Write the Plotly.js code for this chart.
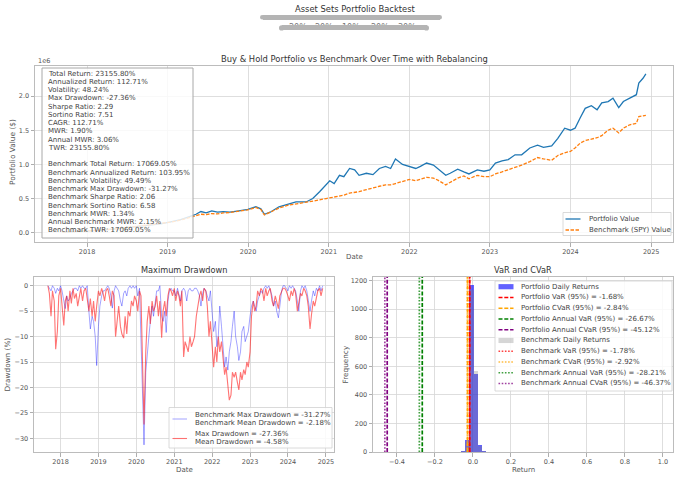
<!DOCTYPE html>
<html><head><meta charset="utf-8">
<script src="https://cdn.plot.ly/plotly-3.0.1.min.js"></script>
<style>html,body{margin:0;padding:0;background:#fff}#chart{width:680px;height:479px}</style>
</head><body><div id="chart"></div>
<script>
// ---------------- data ----------------
const valueDates = ['2017-09-12','2017-10-15','2017-12-01','2018-01-15','2018-03-01','2018-04-15','2018-06-01','2018-07-15','2018-09-01','2018-10-15','2018-12-01','2019-01-15','2019-03-01','2019-04-10','2019-05-10','2019-06-01','2019-06-25','2019-07-20','2019-08-15','2019-09-10','2019-10-10','2019-11-20','2019-12-31','2020-02-05','2020-02-28','2020-03-15','2020-04-10','2020-05-20','2020-06-28','2020-08-05','2020-09-20','2020-10-20','2020-11-20','2020-12-20','2021-01-05','2021-01-25','2021-02-18','2021-03-10','2021-04-05','2021-04-28','2021-05-18','2021-06-20','2021-07-20','2021-08-18','2021-09-15','2021-10-08','2021-10-30','2021-12-01','2022-01-01','2022-01-30','2022-02-20','2022-03-20','2022-04-20','2022-05-10','2022-06-15','2022-07-05','2022-08-08','2022-09-05','2022-09-28','2022-11-05','2022-12-05','2023-01-01','2023-01-26','2023-02-25','2023-03-25','2023-04-25','2023-05-25','2023-07-01','2023-08-05','2023-09-01','2023-10-08','2023-11-05','2023-12-06','2024-01-01','2024-01-22','2024-02-14','2024-03-08','2024-04-05','2024-05-01','2024-05-22','2024-06-20','2024-07-12','2024-08-07','2024-08-28','2024-09-26','2024-10-26','2024-11-06','2024-11-25','2024-12-08'];
// values in millions of $
const portfolioValue = [0.0101,0.012,0.018,0.026,0.034,0.045,0.06,0.078,0.095,0.11,0.13,0.16,0.19,0.235,0.27,0.31,0.29,0.32,0.30,0.31,0.30,0.32,0.34,0.38,0.35,0.27,0.30,0.38,0.42,0.45,0.45,0.50,0.60,0.70,0.76,0.72,0.84,0.82,0.94,0.92,0.84,0.87,0.85,0.94,0.97,0.94,1.08,1.00,0.97,0.94,0.97,1.02,0.99,0.94,0.84,0.87,0.93,0.89,0.86,0.92,0.90,0.92,1.02,1.05,1.07,1.14,1.14,1.24,1.28,1.25,1.27,1.38,1.53,1.50,1.53,1.68,1.82,1.86,1.80,1.90,1.92,1.97,1.83,1.92,1.97,2.02,2.19,2.26,2.3256];
const benchmarkValue = [0.0101,0.013,0.02,0.029,0.038,0.048,0.063,0.08,0.097,0.112,0.13,0.155,0.185,0.22,0.25,0.27,0.265,0.28,0.275,0.29,0.295,0.31,0.335,0.37,0.34,0.26,0.30,0.36,0.40,0.42,0.44,0.46,0.48,0.50,0.51,0.52,0.54,0.55,0.58,0.59,0.60,0.63,0.66,0.68,0.70,0.70,0.72,0.75,0.78,0.76,0.78,0.81,0.80,0.77,0.70,0.74,0.80,0.83,0.79,0.84,0.82,0.82,0.86,0.89,0.92,0.95,0.99,1.04,1.10,1.08,1.06,1.13,1.17,1.19,1.24,1.31,1.35,1.37,1.39,1.42,1.50,1.53,1.46,1.53,1.58,1.60,1.70,1.71,1.7169];

const statLines = ['Total Return: 23155.80%','Annualized Return: 112.71%','Volatility: 48.24%','Max Drawdown: -27.36%','Sharpe Ratio: 2.29','Sortino Ratio: 7.51','CAGR: 112.71%','MWR: 1.90%','Annual MWR: 3.06%','TWR: 23155.80%','','Benchmark Total Return: 17069.05%','Benchmark Annualized Return: 103.95%','Benchmark Volatility: 49.49%','Benchmark Max Drawdown: -31.27%','Benchmark Sharpe Ratio: 2.06','Benchmark Sortino Ratio: 6.58','Benchmark MWR: 1.34%','Annual Benchmark MWR: 2.15%','Benchmark TWR: 17069.05%'];

// drawdown (%), two samples per month (1st, 15th) from 2017-09 to 2024-11, then 2024-12-01
const ddStartYear = 2017, ddStartMonth = 9, ddMonthCount = 87;
const ddPortfolio = [
 0,-1.5, -6,-1, -3,-12.5, -9,-2,
 -0.5,-4, -7.8,-3, -2,-5, -1,-3.5, -0.5,-2.5, -1.5,-4, -2,-0.5, -3,-1, -0.5,-3, -5,-2.5, -6,-3, -7,-4,
 -1,-2, -0.5,-1.5, -3,-1, -0.5,-2, -4,-1, -2,-10, -6,-4, -8,-9.5, -10.3,-6, -9.5,-5, -6,-3, -4,-2,
 -3,-5, -1,-2, -15,-27.3, -13,-7, -4,-7.5, -3,-5, -4,-2, -6,-3, -10.2,-5, -3,-6, -2,-0.5, -1,-2,
 -0.5,-3, -1,-2, -4,-1, -14,-11, -12,-13, -10,-12, -11,-10, -6,-4, -2,-1, -3,-0.5, -1,-4, -10,-7,
 -11.5,-16, -12,-15, -10,-13, -11,-14, -17.5,-16, -20,-22.5, -21.5,-17, -18,-17, -19,-20.5, -17,-18.5, -16.5,-17.5, -15,-16,
 -13,-6, -3,-5, -4,-1, -2,-0.5, -1,-3, -0.5,-2, -1,-0.5, -3,-4, -2,-3, -4.5,-2, -1,-0.5, -0.5,-1,
 -2,-3, -1,-2, -0.5,-1.5, -5,-3, -1.5,-2, -0.5,-1, -2,-4, -8.5,-5.7, -3,-4, -2,-1, -0.5,-2,
 -0.5];
const ddBenchmark = [
 0,-0.5, -1,0, -0.5,-1.5, -0.5,-1,
 0,-1, -3,-4.5, -2,-3, -2.5,-1.5, -1,-0.5, -0.5,-1, 0,-0.5, 0,-0.5, -0.5,0, -5,-8.5, -6,-7, -10,-15.7,
 -8,-4, -2,-1, -1,-0.5, 0,-0.5, -2,-4.4, -1,0, -0.5,-1, -3,-4, -1.5,-1, -2,-0.5, 0,-0.5, 0,-0.5,
 0,-2, -0.5,-12, -20,-31.3, -17,-13, -10,-7, -4,-6, -3,-1, -1,0, -6,-7, -5,-9.2, -3,-1, -0.5,-1,
 -1,-2, -0.5,-1.5, -3,-1, -0.5,-1, -3,-1, -0.5,-1, -1,-0.5, -0.5,-1, -2,-4, -1.5,-0.5, -1,-2, -3,-1,
 -5,-9, -7,-12, -10,-4, -8,-12, -16,-14, -16.6,-13, -11,-8, -5,-10, -12,-14.7, -13,-9, -8,-11, -10,-9,
 -6,-4, -3,-4, -5,-3, -2,-1, -1.5,-0.5, 0,-0.5, 0,-1, -2,-4, -3,-5, -6.3,-4, -1,0, 0,-0.5,
 -1,0, -0.5,0, -0.5,-1, -3,-5, -1,0, -0.5,0, -1,-3, -5,-3, -1,-2, -0.5,-1, 0,-1,
 0];

// daily-return histograms
const histBinCenters = [-0.052,-0.030,-0.008,0.014,0.036,0.058,0.080,0.124,0.97];
const histBinWidth = 0.022;
const portfolioCounts = [7,82,1165,545,47,5,2,1,1];
const benchmarkCounts = [5,70,1130,566,40,4,1,0,0];

const riskLabels = ['Portfolio VaR (95%)','Portfolio CVaR (95%)','Portfolio Annual VaR (95%)','Portfolio Annual CVaR (95%)','Benchmark VaR (95%)','Benchmark CVaR (95%)','Benchmark Annual VaR (95%)','Benchmark Annual CVaR (95%)'];
const riskValues = [-0.0168,-0.0284,-0.2667,-0.4512,-0.0178,-0.0292,-0.2821,-0.4637];

const ddSummary = {bMax:-31.27,bMean:-2.18,pMax:-27.36,pMean:-4.58};

// ---------------- build ----------------
const W = 680, H = 479;
const px = x => x / W, py = y => 1 - y / H;

const ddDates = [];
for (let i = 0; i < ddMonthCount; i++) {
  const m0 = ddStartMonth - 1 + i;
  const y = ddStartYear + Math.floor(m0 / 12), m = (m0 % 12) + 1;
  const mm = (m < 10 ? '0' : '') + m;
  ddDates.push(`${y}-${mm}-01`, `${y}-${mm}-15`);
}
ddDates.push('2024-12-01');

const riskColors = ['red','orange','green','purple','rgba(255,0,0,0.75)','rgba(255,165,0,0.75)','rgba(0,128,0,0.75)','rgba(128,0,128,0.75)'];
const DASH = '4px,1.8px', DOT = '1.6px,1.6px';
const riskDash = [DASH,DASH,DASH,DASH,DOT,DOT,DOT,DOT];
const Y3TOP = 1224;

const traces = [
  {x: valueDates, y: portfolioValue, type:'scatter', mode:'lines', line:{color:'#1f77b4', width:1.3}, xaxis:'x', yaxis:'y'},
  {x: valueDates, y: benchmarkValue, type:'scatter', mode:'lines', line:{color:'#ff7f0e', width:1.3, dash:'3.5px,1.5px'}, xaxis:'x', yaxis:'y'},
  {x: ddDates, y: ddBenchmark, type:'scatter', mode:'lines', line:{color:'rgba(0,0,255,0.36)', width:1}, xaxis:'x2', yaxis:'y2'},
  {x: ddDates, y: ddPortfolio, type:'scatter', mode:'lines', line:{color:'rgba(255,0,0,0.55)', width:1.1}, xaxis:'x2', yaxis:'y2'},
  {x: histBinCenters, y: portfolioCounts, type:'bar', width: histBinWidth, marker:{color:'rgba(0,0,255,0.62)', line:{width:0}}, xaxis:'x3', yaxis:'y3'},
  {x: histBinCenters, y: benchmarkCounts, type:'bar', width: histBinWidth, marker:{color:'rgba(128,128,128,0.32)', line:{width:0}}, xaxis:'x3', yaxis:'y3'}
];
riskValues.forEach((v, i) => traces.push({x:[v,v], y:[0,Y3TOP], type:'scatter', mode:'lines', line:{color:riskColors[i], width:1.7, dash:riskDash[i]}, xaxis:'x3', yaxis:'y3'}));

const axCommon = {showgrid:true, gridcolor:'#d6d6d6', gridwidth:0.8, showline:true, mirror:true, linecolor:'#bcbcbc', linewidth:1,
  ticks:'outside', ticklen:3.5, tickwidth:0.8, tickcolor:'#9a9a9a', tickfont:{size:6.5, color:'#555'}, zeroline:false, fixedrange:true};

const ann = [], shapes = [];
function txt(x, y, text, o = {}) {
  ann.push(Object.assign({xref:'paper', yref:'paper', x:px(x), y:py(y), text, showarrow:false, xanchor:'center', yanchor:'middle',
    font:{size:7, color:'#444'}}, o));
}
function rect(x0, y0, x1, y1, fill, line) {
  shapes.push({type:'rect', xref:'paper', yref:'paper', x0:px(x0), x1:px(x1), y0:py(y1), y1:py(y0), fillcolor:fill, line:line || {width:0}, layer:'above'});
}
function hline(x0, x1, y, color, dash, width) {
  shapes.push({type:'line', xref:'paper', yref:'paper', x0:px(x0), x1:px(x1), y0:py(y), y1:py(y), line:{color, dash, width}, layer:'above'});
}

// titles / labels
txt(355, 9, 'Asset Sets Portfolio Backtest', {font:{size:8.4, color:'#333'}});
txt(354, 59, 'Buy & Hold Portfolio vs Benchmark Over Time with Rebalancing', {font:{size:8.4, color:'#333'}});
txt(36, 61, '1e6', {xanchor:'left', font:{size:6.5, color:'#555'}});
txt(354, 257, 'Date', {font:{size:7, color:'#555'}});
txt(12, 152, 'Portfolio Value ($)', {textangle:-90, font:{size:7.4, color:'#555'}});
txt(184, 270, 'Maximum Drawdown', {font:{size:8.2, color:'#333'}});
txt(184, 470, 'Date', {font:{size:7, color:'#555'}});
txt(7, 364.5, 'Drawdown (%)', {textangle:-90, font:{size:7.3, color:'#555'}});
txt(523, 270, 'VaR and CVaR', {font:{size:8.2, color:'#333'}});
txt(523, 470, 'Return', {font:{size:7, color:'#555'}});
txt(345, 364.5, 'Frequency', {textangle:-90, font:{size:7.3, color:'#555'}});

// redacted subtitle lines
const redact = [[260, 442, 17.2, 4.6], [279, 429, 27.9, 5.2]];
txt(298, 27.5, '20%', {font:{size:8, color:'#777'}});
txt(324, 27.5, '20%', {font:{size:8, color:'#777'}});
txt(351, 27.5, '10%', {font:{size:8, color:'#777'}});
txt(380, 27.5, '20%', {font:{size:8, color:'#777'}});
txt(407, 27.5, '30%', {font:{size:8, color:'#777'}});
redact.forEach(([a, b, c, h]) => {
  shapes.push({type:'circle', xref:'paper', yref:'paper', x0:px(a), x1:px(a + h), y0:py(c + h/2), y1:py(c - h/2), fillcolor:'#b4b4b4', line:{width:0}, layer:'above'});
  shapes.push({type:'circle', xref:'paper', yref:'paper', x0:px(b - h), x1:px(b), y0:py(c + h/2), y1:py(c - h/2), fillcolor:'#b4b4b4', line:{width:0}, layer:'above'});
  ann.push({xref:'paper', yref:'paper', x:px((a + b)/2), y:py(c), text:' ', showarrow:false, width:b - a - h, height:h, bgcolor:'#b4b4b4', borderpad:0, borderwidth:0, xanchor:'center', yanchor:'middle', font:{size:2}});
});

// stats text box
rect(42, 68, 193, 238, 'rgba(255,255,255,0.82)', {color:'#a8a8a8', width:1});
statLines.forEach((s, i) => { if (s) txt(46, 73.5 + i * 8.26, s, {xanchor:'left'}); });

// top legend
rect(563, 212.5, 671, 235.5, 'rgba(255,255,255,0.85)', {color:'#d0d0d0', width:0.8});
hline(565.5, 580.5, 219, '#1f77b4', 'solid', 1.3);
hline(565.5, 580.5, 230, '#ff7f0e', '3.5px,1.5px', 1.3);
txt(586.5, 219, 'Portfolio Value', {xanchor:'left'});
txt(586.5, 230, 'Benchmark (SPY) Value', {xanchor:'left'});

// drawdown legend
rect(169, 407.5, 332, 448, 'rgba(255,255,255,0.85)', {color:'#d0d0d0', width:0.8});
hline(172.5, 187, 419, 'rgba(0,0,255,0.36)', 'solid', 1);
hline(172.5, 187, 438.5, 'rgba(255,0,0,0.55)', 'solid', 1.1);
txt(192.5, 414.7, `Benchmark Max Drawdown = ${ddSummary.bMax.toFixed(2)}%`, {xanchor:'left'});
txt(192.5, 423.2, `Benchmark Mean Drawdown = ${ddSummary.bMean.toFixed(2)}%`, {xanchor:'left'});
txt(192.5, 433.7, `Max Drawdown = ${ddSummary.pMax.toFixed(2)}%`, {xanchor:'left'});
txt(192.5, 442.2, `Mean Drawdown = ${ddSummary.pMean.toFixed(2)}%`, {xanchor:'left'});

// histogram legend
rect(495, 281, 672, 391, 'rgba(255,255,255,0.85)', {color:'#d0d0d0', width:0.8});
const legY = i => 286.7 + i * 10.75;
const legEntries = [
  {kind:'patch', color:'rgba(0,0,255,0.62)', label:'Portfolio Daily Returns'},
  ...riskLabels.slice(0, 4).map((l, i) => ({kind:'line', color:riskColors[i], dash:riskDash[i], label:`${l} = ${(riskValues[i]*100).toFixed(2)}%`})),
  {kind:'patch', color:'rgba(128,128,128,0.32)', label:'Benchmark Daily Returns'},
  ...riskLabels.slice(4).map((l, i) => ({kind:'line', color:riskColors[i+4], dash:riskDash[i+4], label:`${l} = ${(riskValues[i+4]*100).toFixed(2)}%`}))
];
legEntries.forEach((e, i) => {
  const y = legY(i);
  if (e.kind === 'patch') rect(498.5, y - 2.6, 513.5, y + 2.6, e.color);
  else hline(498.5, 513.5, y, e.color, e.dash, 1.5);
  txt(518.5, y, e.label, {xanchor:'left', font:{size:7, color:'#444'}});
});

const layout = {
  width:W, height:H, margin:{l:0, r:0, t:0, b:0}, paper_bgcolor:'#fff', plot_bgcolor:'#fff',
  font:{family:'DejaVu Sans', size:7, color:'#444'}, showlegend:false, barmode:'overlay', bargap:0,
  xaxis: Object.assign({}, axCommon, {domain:[px(35), px(673)], anchor:'y', type:'date', range:['2017-05-10','2025-04-10'], dtick:'M12', tick0:'2018-01-01', tickformat:'%Y'}),
  yaxis: Object.assign({}, axCommon, {domain:[py(242), py(66)], anchor:'x', range:[-0.136, 2.44], dtick:0.5, tick0:0, tickformat:'.1f'}),
  xaxis2: Object.assign({}, axCommon, {domain:[px(34), px(334)], anchor:'y2', type:'date', range:['2017-04-20','2025-03-20'], dtick:'M12', tick0:'2018-01-01', tickformat:'%Y'}),
  yaxis2: Object.assign({}, axCommon, {domain:[py(452), py(277)], anchor:'x2', range:[-32.7, 1.72], dtick:5, tick0:0}),
  xaxis3: Object.assign({}, axCommon, {domain:[px(373), px(673)], anchor:'y3', range:[-0.526, 1.053], dtick:0.2, tick0:0, tickformat:'.1f'}),
  yaxis3: Object.assign({}, axCommon, {domain:[py(452), py(277)], anchor:'x3', range:[0, Y3TOP], dtick:200, tick0:0}),
  annotations: ann, shapes: shapes
};

Plotly.newPlot('chart', traces, layout, {staticPlot:true, displayModeBar:false});
</script></body></html>
